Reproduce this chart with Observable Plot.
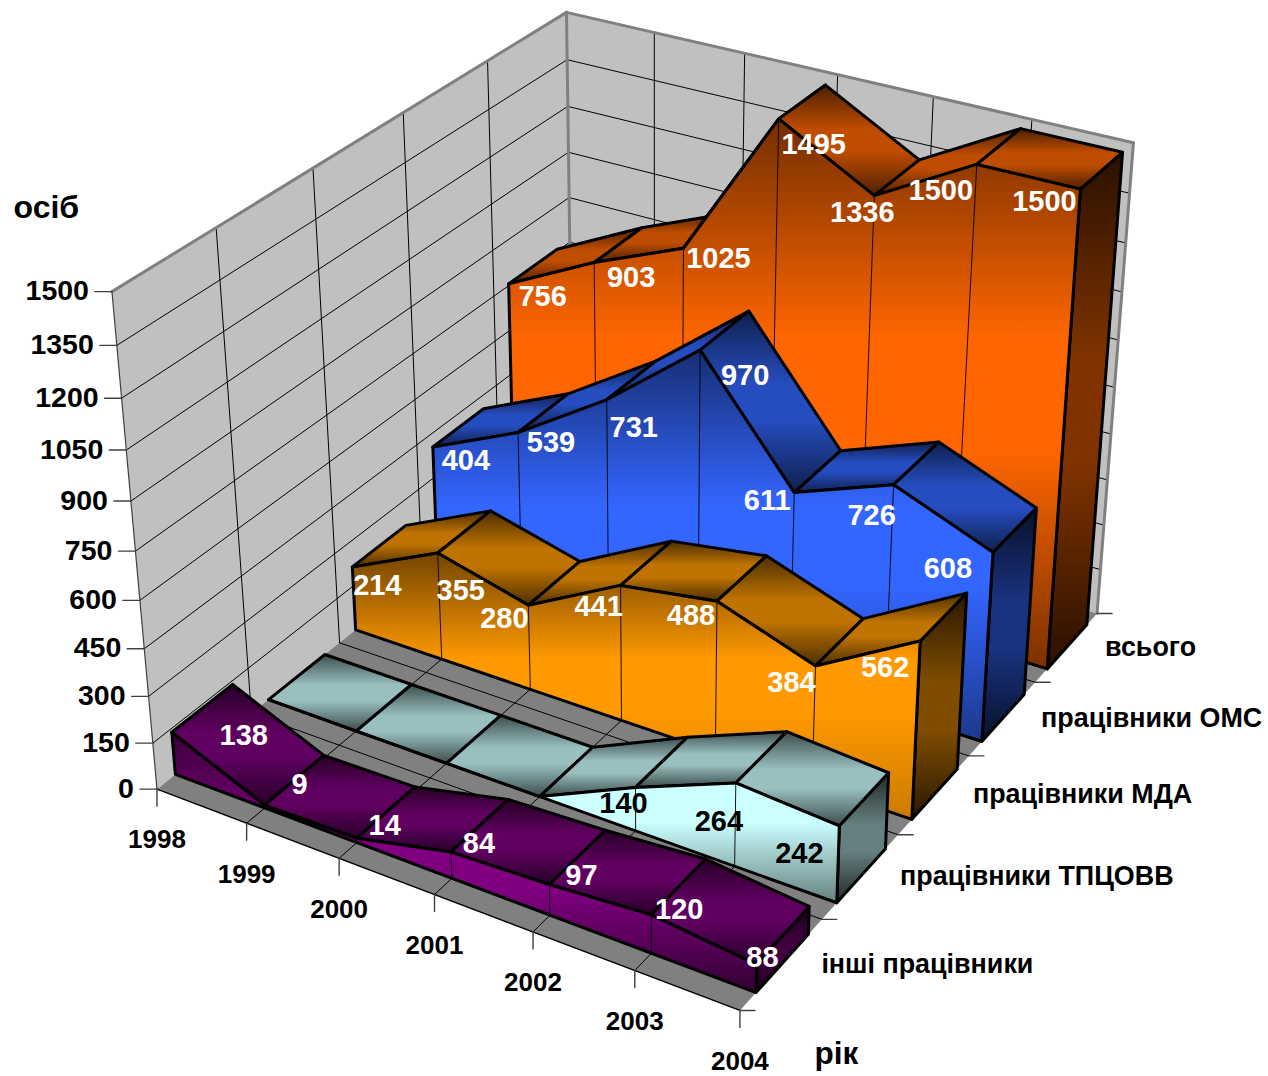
<!DOCTYPE html>
<html>
<head>
<meta charset="utf-8">
<style>
html,body{margin:0;padding:0;background:#fff;}
svg{display:block;}
</style>
<script src="https://cdn.jsdelivr.net/npm/d3@7"></script>
<script src="https://cdn.jsdelivr.net/npm/@observablehq/plot@0.6"></script>
</head>
<body>
<div id="chart"></div>
<script>
// ---------- data ----------
const years = [1998, 1999, 2000, 2001, 2002, 2003, 2004];
const valueTicks = [0, 150, 300, 450, 600, 750, 900, 1050, 1200, 1350, 1500];
const seriesNames = ["інші працівники", "працівники ТПЦОВВ", "працівники МДА", "працівники ОМС", "всього"];
const inshi = [138, 9, 14, 84, 97, 120, 88];
const tpcovv = [0, 0, 0, 0, 140, 264, 242];
const mda = [214, 355, 280, 441, 488, 384, 562];
const oms = [404, 539, 731, 970, 611, 726, 608];
const vsogo = [756, 903, 1025, 1495, 1336, 1500, 1500];
const seriesValues = [inshi, tpcovv, mda, oms, vsogo];

// ---------- styling and placement ----------
const baseColors = ["#800080", "#CCFFFF", "#FF9900", "#3366FF", "#FF6600"];
const labelColors = ["#fff", "#000", "#fff", "#fff", "#fff"];
const frontBottomShade = [.4, .5, .8, .55, .48];
const FONT = "Liberation Sans, Arial, sans-serif";
const vNear = 0.19, vFar = 0.83;
const labelNudge = [
  [[72,3],[35,-20],[28,-13],[28,-8],[32,-9],[28,-5],[6,-7]],
  [null,null,null,null,[-12,16],[-17,39],[-40,28]],
  [[25,19],[23,38],[-24,14],[-22,21],[-26,15],[-24,17],[-35,27]],
  [[33,14],[33,10],[27,28],[45,26],[-27,8],[-22,31],[-45,16]],
  [[34,13],[37,15],[35,10],[35,26],[-12,17],[-36,26],[-36,13]]
];
const seriesLabelOffset = [[-0.5,45],[2,42],[4,38],[6,36],[8,34]];

// ---------- camera: a homography fitted on the chart box corners ----------
const calibration = [
  [0,0,0,157,788],[0,0,0,157,788],[1,0,0,740,1010],[1,1,0,1097,613],
  [0,0,1,112,290],[0,1,1,566,12],[1,1,1,1133,142],
  [0,.038,.092,170,733],[0,.438,.1427,352,567],[0,.638,.2693,432,447],[0,.838,.504,508,283],
  [1,.038,0,755,993],[1,.238,0,836,902],[1,.438,0,912,818],[1,.638,0,981,740],[1,.838,0,1047,668],
  [1,.838,1,1080,189],[1,.638,.4053,992,552],[1,.438,.3747,919,642]
];
function fitCamera(pts){
  const A=[],b=[];
  for(const [u,v,w,X,Y] of pts){
    const x=X/1000,y=Y/1000;
    A.push([u,v,w,1,0,0,0,0,-x*u,-x*v,-x*w]);b.push(x);
    A.push([0,0,0,0,u,v,w,1,-y*u,-y*v,-y*w]);b.push(y);
  }
  const n=11,M=[];
  for(let i=0;i<n;i++){
    M.push(new Array(n+1).fill(0));
    for(let j=0;j<n;j++)for(let r=0;r<A.length;r++)M[i][j]+=A[r][i]*A[r][j];
    for(let r=0;r<A.length;r++)M[i][n]+=A[r][i]*b[r];
  }
  for(let c=0;c<n;c++){
    let p=c;for(let r=c+1;r<n;r++)if(Math.abs(M[r][c])>Math.abs(M[p][c]))p=r;
    [M[c],M[p]]=[M[p],M[c]];
    for(let r=0;r<n;r++){ if(r===c)continue;
      const f=M[r][c]/M[c][c];
      for(let k=c;k<=n;k++)M[r][k]-=f*M[c][k];
    }
  }
  return M.map((row,i)=>row[n]/row[i]);
}
const P=fitCamera(calibration);
function project(p){
  const d=P[8]*p.u+P[9]*p.v+P[10]*p.w+1;
  return [1000*(P[0]*p.u+P[1]*p.v+P[2]*p.w+P[3])/d,1000*(P[4]*p.u+P[5]*p.v+P[6]*p.w+P[7])/d];
}
const px=d=>project(d)[0]+(d.dx||0);
const py=d=>project(d)[1]+(d.dy||0);
const U=i=>(years[i]-years[0])/(years[years.length-1]-years[0]);
const W=val=>val/valueTicks[valueTicks.length-1];
const pt=(u,v,w,extra)=>({u,v,w,...extra});

// ---------- gradients ----------
function scaleColor(hex,k){const c=d3.rgb(hex);return d3.rgb(c.r*k,c.g*k,c.b*k).formatHex();}
function gradients(){
  const defs=d3.create("svg:defs");
  baseColors.forEach((col,i)=>{
    const shades={front:[.45,1,frontBottomShade[i]],top:[.3,.75,.3],side:[.16,.5,.16]};
    for(const key in shades){
      const [e0,m,e1]=shades[key];
      const g=defs.append("linearGradient").attr("id",`g${i}${key}`)
        .attr("x1",0).attr("y1",0).attr("x2",0).attr("y2",1);
      g.append("stop").attr("offset",0).attr("stop-color",scaleColor(col,e0));
      g.append("stop").attr("offset",.4).attr("stop-color",scaleColor(col,m));
      g.append("stop").attr("offset",.6).attr("stop-color",scaleColor(col,m));
      g.append("stop").attr("offset",1).attr("stop-color",scaleColor(col,e1));
    }
  });
  return defs.node();
}

// ---------- helpers ----------
const poly=(pts,opts)=>Plot.line([...pts,pts[0]],{x:px,y:py,...opts});
const seg=(a,b,opts)=>Plot.line([a,b],{x:px,y:py,...opts});
const grid={stroke:"#000",strokeWidth:1};
const edge={stroke:"#808080",strokeWidth:3};

const marks=[gradients];

// walls and floor
marks.push(poly([pt(0,0,0),pt(0,1,0),pt(0,1,1),pt(0,0,1)],{fill:"#C0C0C0",stroke:"none"}));
marks.push(poly([pt(0,1,0),pt(1,1,0),pt(1,1,1),pt(0,1,1)],{fill:"#C0C0C0",stroke:"none"}));
marks.push(poly([pt(0,0,0),pt(1,0,0),pt(1,1,0),pt(0,1,0)],{fill:"#808080",stroke:"none"}));
valueTicks.forEach(t=>{
  if(t===0)return;
  marks.push(seg(pt(0,0,W(t)),pt(0,1,W(t)),grid));
  marks.push(seg(pt(0,1,W(t)),pt(1,1,W(t)),grid));
});
seriesNames.forEach((_,i)=>{
  const v=i/seriesNames.length;
  if(i>0){
    marks.push(seg(pt(0,v,0),pt(0,v,1),grid));
    marks.push(seg(pt(0,v,0),pt(1,v,0),grid));
  }
});
years.forEach((_,j)=>{
  if(j>0&&j<years.length-1){
    marks.push(seg(pt(U(j),1,0),pt(U(j),1,1),grid));
    marks.push(seg(pt(U(j),0,0),pt(U(j),1,0),grid));
  }
});
marks.push(seg(pt(0,0,1),pt(0,1,1),edge));
marks.push(seg(pt(0,1,1),pt(1,1,1),edge));
marks.push(seg(pt(0,1,0),pt(0,1,1),edge));
marks.push(seg(pt(1,1,0),pt(1,1,1),edge));
marks.push(seg(pt(0,0,0),pt(0,0,1),{stroke:"#404040",strokeWidth:1.2}));
marks.push(seg(pt(0,0,0),pt(1,0,0),{stroke:"#000",strokeWidth:1.4}));

// ribbons, from the back to the front
for(let s=seriesNames.length-1;s>=0;s--){
  const vals=seriesValues[s];
  const v0=(s+vNear)/seriesNames.length, v1=(s+vFar)/seriesNames.length;
  const line={stroke:"#000",strokeWidth:3};
  const last=years.length-1;
  marks.push(poly([pt(1,v0,W(vals[last])),pt(1,v1,W(vals[last])),pt(1,v1,0),pt(1,v0,0)],{fill:`url(#g${s}side)`,...line}));
  for(let j=0;j<last;j++){
    marks.push(poly([pt(U(j),v0,W(vals[j])),pt(U(j),v1,W(vals[j])),pt(U(j+1),v1,W(vals[j+1])),pt(U(j+1),v0,W(vals[j+1]))],{fill:`url(#g${s}top)`,...line}));
  }
  const outline=vals.map((val,j)=>pt(U(j),v0,W(val)));
  outline.push(pt(1,v0,0),pt(0,v0,0));
  marks.push(poly(outline,{fill:`url(#g${s}front)`,...line}));
  for(let j=1;j<last;j++){
    if(vals[j]>0) marks.push(seg(pt(U(j),v0,W(vals[j])),pt(U(j),v0,0),{stroke:"#000",strokeWidth:.9}));
  }
}

// ticks
const tickStyle={stroke:"#404040",strokeWidth:1.4};
valueTicks.forEach(t=>marks.push(seg(pt(0,0,W(t)),pt(0,0,W(t),{dx:-17}),tickStyle)));
years.forEach((_,j)=>marks.push(seg(pt(U(j),0,0),pt(U(j),0,0,{dy:17}),tickStyle)));
d3.range(seriesNames.length+1).forEach(i=>{
  const v=i/seriesNames.length;
  marks.push(seg(pt(1,v,0),pt(1,v,0,{dx:15}),tickStyle));
});

// axis text
marks.push(Plot.text(valueTicks,{
  x:t=>px(pt(0,0,W(t),{dx:-23})),y:t=>py(pt(0,0,W(t),{dy:-.5})),text:d=>String(d),
  textAnchor:"end",fontSize:28.5,fontWeight:"bold",fontFamily:FONT,fill:"#000"}));
marks.push(Plot.text(years.map((y,j)=>j),{
  x:j=>px(pt(U(j),0,0)),y:j=>py(pt(U(j),0,0,{dy:51})),text:j=>String(years[j]),
  textAnchor:"middle",fontSize:26,fontWeight:"bold",fontFamily:FONT,fill:"#000"}));
marks.push(Plot.text(seriesNames.map((n,i)=>i),{
  x:i=>px(pt(1,(i+1)/seriesNames.length,0,{dx:seriesLabelOffset[i][0]})),
  y:i=>py(pt(1,(i+1)/seriesNames.length,0,{dy:seriesLabelOffset[i][1]})),
  text:i=>seriesNames[i],
  textAnchor:"start",fontSize:26.9,fontWeight:"bold",fontFamily:FONT,fill:"#000"}));
marks.push(Plot.text(["осіб"],{x:()=>13,y:()=>207,text:d=>d,textAnchor:"start",fontSize:32,fontWeight:"bold",fontFamily:FONT,fill:"#000"}));
marks.push(Plot.text(["рік"],{x:()=>814,y:()=>1053,text:d=>d,textAnchor:"start",fontSize:31.5,fontWeight:"bold",fontFamily:FONT,fill:"#000"}));

// value labels
const labels=[];
seriesValues.forEach((vals,s)=>vals.forEach((val,j)=>{
  const n=labelNudge[s][j];
  if(n) labels.push({...pt(U(j),(s+vNear)/seriesNames.length,W(val)),dx:n[0],dy:n[1],val,s});
}));
marks.push(Plot.text(labels,{x:px,y:py,text:d=>String(d.val),
  fill:d=>labelColors[d.s],textAnchor:"middle",fontSize:29,fontWeight:"bold",fontFamily:FONT}));

const chart=Plot.plot({
  width:1268,height:1076,margin:0,
  x:{type:"linear",domain:[0,1268],range:[0,1268],axis:null},
  y:{type:"linear",domain:[0,1076],range:[0,1076],axis:null},
  color:{type:"identity"},
  style:{background:"#fff",overflow:"visible"},
  marks
});
document.getElementById("chart").appendChild(chart);
</script>
</body>
</html>
